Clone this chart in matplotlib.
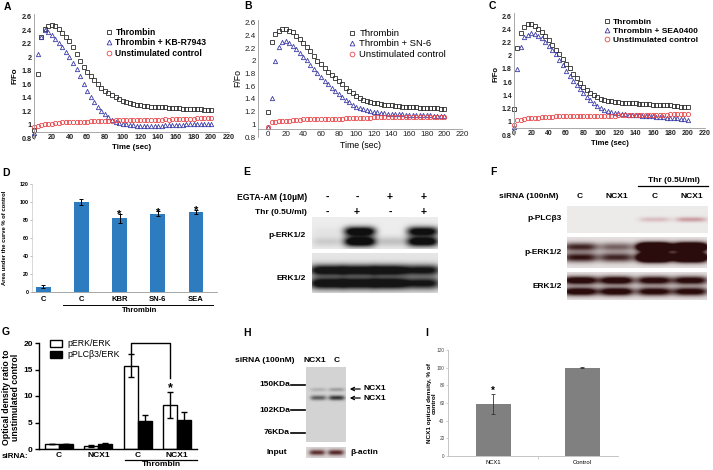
import numpy as np
import matplotlib
matplotlib.use('Agg')
import matplotlib.pyplot as plt
from matplotlib.lines import Line2D
from matplotlib.patches import Rectangle, FancyArrowPatch

plt.rcParams['font.family'] = ['Liberation Sans', 'DejaVu Sans']

W, H = 713, 470

# ---------------- A-C: Ca2+ traces, one reading every 4 s ----------------
time_s = np.arange(0, 201, 4)

a_thrombin = [0.92, 1.75, 2.30, 2.42, 2.47, 2.48, 2.46, 2.42, 2.37, 2.31, 2.24,
              2.15, 2.05, 1.95, 1.86, 1.79, 1.72, 1.66, 1.60, 1.55, 1.51,
              1.47, 1.44, 1.41, 1.38, 1.36, 1.34, 1.32, 1.31, 1.30, 1.29,
              1.28, 1.28, 1.27, 1.27, 1.26, 1.26, 1.26, 1.25, 1.25, 1.25,
              1.25, 1.24, 1.24, 1.24, 1.23, 1.23, 1.23, 1.22, 1.22, 1.22]
a_drug = [0.88, 2.05, 2.30, 2.40, 2.38, 2.33, 2.28, 2.22, 2.15, 2.08, 2.00,
          1.92, 1.83, 1.72, 1.60, 1.50, 1.42, 1.34, 1.27, 1.21, 1.16,
          1.12, 1.08, 1.05, 1.03, 1.02, 1.01, 1.00, 1.00, 0.99, 0.99,
          0.99, 0.99, 0.99, 0.99, 0.99, 0.99, 1.00, 1.00, 1.00, 1.00,
          1.00, 1.00, 1.01, 1.01, 1.01, 1.01, 1.01, 1.02, 1.02, 1.02]
a_control = [0.97, 0.99, 1.00, 1.01, 1.02, 1.02, 1.03, 1.03, 1.04, 1.04, 1.04,
             1.05, 1.05, 1.05, 1.05, 1.05, 1.06, 1.06, 1.06, 1.06, 1.06,
             1.06, 1.06, 1.07, 1.07, 1.07, 1.07, 1.07, 1.07, 1.07, 1.08,
             1.08, 1.08, 1.08, 1.08, 1.08, 1.08, 1.09, 1.08, 1.09, 1.09,
             1.09, 1.09, 1.09, 1.09, 1.09, 1.10, 1.10, 1.10, 1.10, 1.10]

b_thrombin = [1.20, 2.30, 2.42, 2.47, 2.50, 2.50, 2.48, 2.45, 2.40, 2.35, 2.29,
              2.22, 2.15, 2.08, 2.00, 1.95, 1.89, 1.83, 1.78, 1.73, 1.68,
              1.63, 1.58, 1.53, 1.49, 1.45, 1.42, 1.39, 1.37, 1.35, 1.34,
              1.33, 1.32, 1.31, 1.30, 1.30, 1.29, 1.29, 1.28, 1.28, 1.28,
              1.27, 1.27, 1.26, 1.26, 1.26, 1.25, 1.25, 1.25, 1.24, 1.24]
b_drug = [0.95, 1.42, 2.00, 2.22, 2.30, 2.31, 2.28, 2.24, 2.19, 2.13, 2.07,
          2.01, 1.94, 1.87, 1.81, 1.75, 1.69, 1.63, 1.58, 1.53, 1.48,
          1.43, 1.39, 1.35, 1.31, 1.28, 1.26, 1.24, 1.22, 1.21, 1.20,
          1.19, 1.18, 1.18, 1.17, 1.17, 1.16, 1.16, 1.16, 1.15, 1.15,
          1.15, 1.15, 1.14, 1.14, 1.14, 1.14, 1.13, 1.13, 1.13, 1.13]
b_control = [0.95, 1.03, 1.04, 1.05, 1.05, 1.06, 1.06, 1.07, 1.07, 1.07, 1.08,
             1.08, 1.08, 1.08, 1.08, 1.09, 1.09, 1.09, 1.09, 1.09, 1.09,
             1.09, 1.10, 1.10, 1.10, 1.10, 1.10, 1.10, 1.10, 1.10, 1.11,
             1.11, 1.11, 1.11, 1.11, 1.11, 1.11, 1.11, 1.11, 1.11, 1.11,
             1.11, 1.11, 1.12, 1.12, 1.12, 1.12, 1.12, 1.12, 1.12, 1.12]

c_thrombin = [1.20, 2.12, 2.35, 2.44, 2.48, 2.48, 2.45, 2.41, 2.36, 2.30, 2.23,
              2.16, 2.09, 2.02, 1.95, 1.88, 1.81, 1.73, 1.66, 1.59, 1.53,
              1.48, 1.44, 1.40, 1.37, 1.35, 1.33, 1.32, 1.31, 1.30, 1.30,
              1.29, 1.29, 1.28, 1.28, 1.28, 1.27, 1.27, 1.27, 1.27, 1.26,
              1.26, 1.26, 1.25, 1.25, 1.25, 1.24, 1.24, 1.23, 1.23, 1.23]
c_drug = [0.92, 1.80, 2.13, 2.28, 2.32, 2.34, 2.33, 2.30, 2.26, 2.21, 2.15,
          2.09, 2.02, 1.94, 1.86, 1.77, 1.69, 1.62, 1.55, 1.49, 1.43,
          1.38, 1.33, 1.28, 1.24, 1.21, 1.18, 1.16, 1.15, 1.14, 1.13,
          1.12, 1.12, 1.11, 1.11, 1.10, 1.10, 1.09, 1.09, 1.08, 1.08,
          1.07, 1.07, 1.07, 1.06, 1.06, 1.05, 1.05, 1.04, 1.04, 1.03]
c_control = [0.95, 1.02, 1.03, 1.04, 1.05, 1.05, 1.06, 1.06, 1.07, 1.07, 1.07,
             1.07, 1.08, 1.08, 1.08, 1.08, 1.08, 1.08, 1.08, 1.08, 1.08,
             1.08, 1.08, 1.09, 1.09, 1.09, 1.09, 1.09, 1.09, 1.09, 1.10,
             1.10, 1.10, 1.10, 1.10, 1.10, 1.10, 1.10, 1.11, 1.11, 1.11,
             1.11, 1.11, 1.11, 1.11, 1.12, 1.12, 1.12, 1.12, 1.12, 1.12]

fo_ticks = [0.8, 1.0, 1.2, 1.4, 1.6, 1.8, 2.0, 2.2, 2.4, 2.6]
fo_labels = ['0.8', '1', '1.2', '1.4', '1.6', '1.8', '2', '2.2', '2.4', '2.6']
time_ticks = list(range(0, 221, 20))

# ---------------- D: area under the curve ----------------
d_groups = ['C', 'C', 'KBR', 'SN-6', 'SEA']
d_auc = [6, 100, 82, 87, 89]
d_err = [1.5, 3.5, 5, 2.5, 2.5]
d_star = [False, False, True, True, True]

# ---------------- G: densitometry ----------------
g_groups = ['C', 'NCX1', 'C', 'NCX1']
g_perk = [1.0, 0.6, 15.7, 8.3]
g_perk_err = [0.0, 0.15, 2.2, 2.4]
g_pplc = [1.0, 1.0, 5.2, 5.4]
g_pplc_err = [0.0, 0.1, 1.3, 1.5]

# ---------------- I: NCX1 knock-down ----------------
i_groups = ['NCX1', 'Control']
i_density = [59, 100]
i_err = [11, 0.5]

# ---------------- blot band intensities (rows = bands, cols = lanes) ----------------
e_perk = [[0.04, 1.3, 0.0, 1.2], [0.15, 1.4, 0.2, 1.3]]
e_erk = [[1.25, 1.25, 1.3, 1.1], [1.3, 1.3, 1.35, 1.1]]
f_pplc = [[0.0, 0.0, 0.22, 0.38]]
f_perk = [[0.9, 0.6, 2.5, 2.3], [1.0, 0.9, 2.5, 2.3]]
f_erk = [[1.3, 1.3, 1.2, 1.2], [1.3, 1.3, 1.2, 1.2]]
h_ncx1 = [[0.2, 0.32], [0.7, 0.95]]
h_actin = [[0.9, 0.95]]

fig = plt.figure(figsize=(W / 100, H / 100), dpi=100)


def px_axes(x0, y0, x1, y1):
    return fig.add_axes([x0 / W, 1 - y1 / H, (x1 - x0) / W, (y1 - y0) / H])


def ftext(x, y, s, **kw):
    kw.setdefault('ha', 'center')
    kw.setdefault('va', 'center')
    fig.text(x / W, 1 - y / H, s, **kw)


def fline(xs, ys, lw=1.0, color='black'):
    fig.add_artist(Line2D([x / W for x in xs], [1 - y / H for y in ys],
                          lw=lw, color=color))


def trace_panel(box, xlim, series, labels, leg_xy, fs, weight, spine_y):
    ax = px_axes(*box)
    styles = [('s', '#2b2b2b'), ('^', '#3a3aa8'), ('o', '#e8474a')]
    for vals, (mk, col), lab in zip(series, styles, labels):
        ax.plot(time_s, vals, ls='none', marker=mk, ms=3.1, mfc='none',
                mec=col, mew=0.6, label=lab, clip_on=False)
    ax.set_xlim(*xlim)
    ax.set_ylim(0.8, 2.65)
    ax.set_xticks(time_ticks)
    ax.set_xticklabels([str(t) for t in time_ticks])
    ax.set_yticks(fo_ticks)
    ax.set_yticklabels(fo_labels)
    ax.spines[['top', 'right']].set_visible(False)
    ax.spines['bottom'].set_position(('data', spine_y))
    for s in ['left', 'bottom']:
        ax.spines[s].set_color('#9a9a9a')
        ax.spines[s].set_linewidth(0.6)
    ax.tick_params(length=0, pad=1.5, labelsize=fs, colors='#222222')
    for t in ax.get_xticklabels() + ax.get_yticklabels():
        t.set_fontweight(weight)
    ax.set_xlabel('Time (sec)', fontsize=fs + 0.5, fontweight=weight, labelpad=2)
    ax.set_ylabel('F/Fo', fontsize=fs + 0.5, fontweight=weight, labelpad=2)
    ax.legend(loc='upper left', bbox_to_anchor=(leg_xy[0] / W, 1 - leg_xy[1] / H),
              bbox_transform=fig.transFigure, frameon=False,
              prop={'weight': weight, 'size': fs + 1}, handlelength=0.6,
              handletextpad=0.5, labelspacing=0.15, borderpad=0, borderaxespad=0,
              markerscale=1.1)
    return ax


trace_panel((34, 13.6, 229, 138.5), (0, 220),
            [a_thrombin, a_drug, a_control],
            ['Thrombin', 'Thrombin + KB-R7943', 'Unstimulated control'],
            (106, 28), 5.2, 'bold', 0.9)
trace_panel((258, 19.8, 462, 137), (-11.5, 220),
            [b_thrombin, b_drug, b_control],
            ['Thrombin', 'Thrombin + SN-6', 'Unstimulated control'],
            (349, 29), 5.8, 'normal', 0.92)
trace_panel((514, 12.7, 705, 135), (0, 220),
            [c_thrombin, c_drug, c_control],
            ['Thrombin', 'Thrombin + SEA0400', 'Unstimulated control'],
            (604, 18), 5.0, 'bold', 0.9)

# ---------------- D ----------------
ax = px_axes(32, 184, 217, 292)
xd = np.arange(len(d_groups))
ax.bar(xd, d_auc, width=0.39, color='#2e7cc0', zorder=2)
ax.errorbar(xd, d_auc, yerr=d_err, fmt='none', ecolor='black', elinewidth=0.7,
            capsize=1.5, capthick=0.7, zorder=3)
for x, v, e, s in zip(xd, d_auc, d_err, d_star):
    if s:
        ax.text(x, v + e - 1, '*', ha='center', va='center', fontsize=8,
                fontweight='bold')
ax.set_xlim(-0.29, 4.55)
ax.set_ylim(0, 120)
ax.set_yticks(range(0, 121, 20))
ax.set_xticks(xd)
ax.set_xticklabels(d_groups, fontsize=5.5, fontweight='bold')
ax.tick_params(axis='x', length=0, pad=3)
ax.tick_params(axis='y', length=1.5, width=0.4, labelsize=3.8, pad=1, color='#888888')
for t in ax.get_yticklabels():
    t.set_fontweight('bold')
ax.spines[['top', 'right']].set_visible(False)
ax.spines['left'].set_color('#bbbbbb')
ax.spines['left'].set_linewidth(0.4)
ax.spines['bottom'].set_color('#999999')
ax.spines['bottom'].set_linewidth(0.6)
ftext(5, 238, 'Area under the curve % of control', rotation=90, fontsize=4.2,
      fontweight='bold')
fline([63, 213], [304.5, 304.5], lw=0.7)
ftext(140, 310.5, 'Thrombin', fontsize=5.5, fontweight='bold')


# ---------------- blots ----------------
def blot(box, lane_x, lane_w, band_y, band_h, levels, bg, ink):
    ax = px_axes(*box)
    yy, xx = np.mgrid[0:1:140j, 0:1:260j]
    dark = np.zeros_like(xx)
    for by, bh, row in zip(band_y, band_h, levels):
        for lx, v in zip(lane_x, row):
            dark += v * np.exp(-((yy - by) / bh) ** 2) * np.exp(-((xx - lx) / lane_w) ** 4)
    dark = np.clip(dark, 0, 1)[..., None]
    img = np.array(bg)[None, None, :] * (1 - dark) + np.array(ink)[None, None, :] * dark
    ax.imshow(img, aspect='auto', interpolation='bilinear')
    ax.set_axis_off()
    return ax


# E
ftext(307, 197, 'EGTA-AM (10\u00b5M)', ha='right', fontsize=6.2, fontweight='bold')
ftext(307, 212, 'Thr (0.5U/ml)', ha='right', fontsize=6, fontweight='bold')
for x, s1, s2 in zip([327, 357, 390, 424], ['-', '-', '+', '+'], ['-', '+', '-', '+']):
    ftext(x, 197, s1, fontsize=7.5, fontweight='bold')
    ftext(x, 212, s2, fontsize=7.5, fontweight='bold')
blot((312, 217, 438, 249), [0.12, 0.38, 0.63, 0.88], 0.125, [0.45, 0.77], [0.15, 0.16],
     e_perk, (0.93, 0.93, 0.93), (0.06, 0.06, 0.06))
blot((312, 253, 438, 293), [0.12, 0.37, 0.62, 0.88], 0.14, [0.43, 0.76], [0.14, 0.15],
     e_erk, (0.9, 0.9, 0.9), (0.08, 0.08, 0.08))
ftext(306, 236, 'p-ERK1/2', ha='right', fontsize=6, fontweight='bold')
ftext(306, 278, 'ERK1/2', ha='right', fontsize=6, fontweight='bold')

# F
ftext(674, 180, 'Thr (0.5U/ml)', fontsize=6, fontweight='bold')
fline([638, 708], [186, 186], lw=0.9)
ftext(529, 197, 'siRNA (100nM)', fontsize=6, fontweight='bold')
for x, s in zip([580, 617, 655, 692], ['C', 'NCX1', 'C', 'NCX1']):
    ftext(x, 197, s, fontsize=6, fontweight='bold')
lanes_f = [0.094, 0.353, 0.624, 0.882]
blot((567, 206, 708, 233), lanes_f, 0.11, [0.5], [0.09], f_pplc,
     (0.93, 0.92, 0.92), (0.55, 0.12, 0.14))
blot((567, 237, 707, 268), lanes_f, 0.125, [0.32, 0.66], [0.14, 0.15], f_perk,
     (0.9, 0.88, 0.88), (0.17, 0.05, 0.05))
blot((567, 272, 707, 300), lanes_f, 0.125, [0.3, 0.7], [0.15, 0.15], f_erk,
     (0.9, 0.88, 0.88), (0.17, 0.05, 0.05))
ftext(562, 219, 'p-PLC\u03b23', ha='right', fontsize=6, fontweight='bold')
ftext(562, 253, 'p-ERK1/2', ha='right', fontsize=6, fontweight='bold')
ftext(562, 286, 'ERK1/2', ha='right', fontsize=6, fontweight='bold')

# ---------------- G ----------------
ax = px_axes(39, 343, 197, 449)
xg = np.arange(len(g_groups))
bw = 0.36
ax.bar(xg - bw / 2, g_perk, width=bw, color='white', edgecolor='black', lw=1.0, zorder=2)
ax.bar(xg + bw / 2, g_pplc, width=bw, color='black', edgecolor='black', lw=1.0, zorder=2)
ax.errorbar(xg - bw / 2, g_perk, yerr=g_perk_err, fmt='none', ecolor='black',
            elinewidth=1.0, capsize=2.5, capthick=1.0, zorder=3)
ax.errorbar(xg + bw / 2, g_pplc, yerr=g_pplc_err, fmt='none', ecolor='black',
            elinewidth=1.0, capsize=2.5, capthick=1.0, zorder=3)
ax.plot([2 - bw / 2, 2 - bw / 2, 3 - bw / 2, 3 - bw / 2], [18.1, 20, 20, 13.4],
        color='black', lw=1.0, clip_on=False)
ax.text(3 - bw / 2, 11.4, '*', ha='center', va='center', fontsize=9, fontweight='bold')
ax.set_xlim(-0.51, 3.51)
ax.set_ylim(0, 20)
ax.set_yticks([0, 5, 10, 15, 20])
ax.set_xticks(xg)
ax.set_xticklabels(g_groups, fontsize=6, fontweight='bold')
ax.tick_params(axis='x', length=0, pad=2)
ax.tick_params(axis='y', length=3, width=1.0, labelsize=6, pad=1.5)
for t in ax.get_yticklabels():
    t.set_fontweight('bold')
ax.spines[['top', 'right']].set_visible(False)
ax.spines[['left', 'bottom']].set_linewidth(1.0)
fig.add_artist(Rectangle((50 / W, 1 - 347 / H), 12 / W, 7 / H, facecolor='white',
                         edgecolor='black', lw=1.0, transform=fig.transFigure))
fig.add_artist(Rectangle((50 / W, 1 - 358 / H), 12 / W, 7 / H, facecolor='black',
                         edgecolor='black', lw=1.0, transform=fig.transFigure))
ftext(67, 343.5, 'pERK/ERK', ha='left', fontsize=6.3)
ftext(67, 354.5, 'pPLC\u03b23/ERK', ha='left', fontsize=6.3)
ftext(11, 397, 'Optical density ratio to\nunstimulated control', rotation=90,
      fontsize=6.3, fontweight='bold', linespacing=1.0)
ftext(15, 457, 'siRNA:', fontsize=5.8, fontweight='bold')
fline([125, 197], [459.5, 459.5], lw=0.9)
ftext(161, 465, 'Thrombin', fontsize=6, fontweight='bold')

# ---------------- H ----------------
ftext(235, 360, 'siRNA (100nM)', ha='left', fontsize=6, fontweight='bold')
ftext(315, 360, 'NCX1', fontsize=6, fontweight='bold')
ftext(337, 360, 'C', fontsize=6, fontweight='bold')
blot((306, 367, 346, 442), [0.31, 0.77], 0.2, [0.30, 0.41], [0.025, 0.032], h_ncx1,
     (0.83, 0.83, 0.83), (0.16, 0.16, 0.16))
blot((306, 447, 346, 458), [0.28, 0.75], 0.2, [0.5], [0.25], h_actin,
     (0.86, 0.84, 0.84), (0.3, 0.1, 0.1))
for y, s in zip([385, 410, 433], ['150KDa', '102KDa', '76KDa']):
    ftext(290, y, s, ha='right', fontsize=6, fontweight='bold')
    fline([291, 305], [y, y], lw=1.2)
for y in [389, 398]:
    fig.add_artist(FancyArrowPatch(
        (363 / W, 1 - y / H), (347 / W, 1 - y / H), transform=fig.transFigure,
        arrowstyle='->', mutation_scale=6, lw=0.9, color='black'))
    ftext(364, y, 'NCX1', ha='left', fontsize=6, fontweight='bold')
ftext(287, 453, 'Input', ha='right', fontsize=6, fontweight='bold')
ftext(350, 453, '\u03b2-actin', ha='left', fontsize=6, fontweight='bold')

# ---------------- I ----------------
ax = px_axes(448, 350, 618, 456)
xi = np.arange(len(i_groups))
ax.bar(xi, i_density, width=0.39, color='#808080', zorder=2)
ax.errorbar(xi, i_density, yerr=i_err, fmt='none', ecolor='#333333', elinewidth=0.6,
            capsize=1.2, capthick=0.6, zorder=3)
ax.text(0, i_density[0] + i_err[0] + 4, '*', ha='center', va='center', fontsize=7,
        fontweight='bold')
ax.set_xlim(-0.506, 1.40)
ax.set_ylim(0, 120)
ax.set_yticks(range(0, 121, 20))
ax.set_xticks(xi)
ax.set_xticklabels(i_groups, fontsize=4.2)
ax.set_xticks([0.5], minor=True)
ax.tick_params(axis='x', which='major', length=0, pad=3)
ax.tick_params(axis='x', which='minor', length=2, width=0.4, color='#aaaaaa')
ax.tick_params(axis='y', length=1.5, width=0.4, labelsize=3.4, pad=1, color='#aaaaaa',
               labelcolor='#444444')
ax.spines[['top', 'right']].set_visible(False)
ax.spines[['left', 'bottom']].set_color('#bbbbbb')
ax.spines[['left', 'bottom']].set_linewidth(0.6)
ftext(432, 403, 'NCX1 optical density, % of\ncontrol', rotation=90, fontsize=4.6,
      fontweight='bold', linespacing=1.0)

# ---------------- panel letters ----------------
for x, y, s in [(7, 7, 'A'), (248, 6, 'B'), (492, 6, 'C'), (6, 173, 'D'),
                (247, 172, 'E'), (493, 172, 'F'), (6, 332, 'G'), (247, 333, 'H'),
                (427, 333, 'I')]:
    ftext(x, y, s, fontsize=7.5, fontweight='bold')

fig.savefig('out.png', dpi=100, facecolor='white')
